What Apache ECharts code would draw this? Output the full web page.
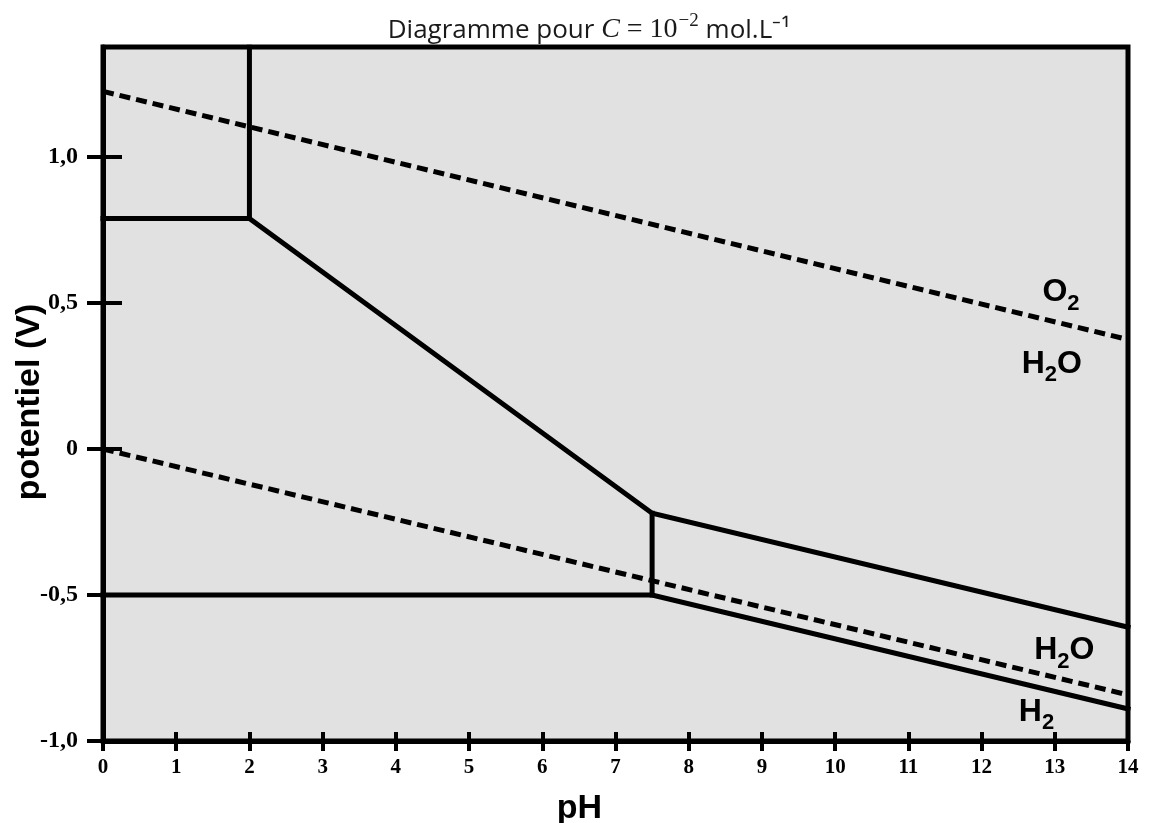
<!DOCTYPE html>
<html>
<head>
<meta charset="utf-8">
<script src="https://cdn.jsdelivr.net/npm/echarts@6/dist/echarts.min.js"></script>
<style>
html,body{margin:0;padding:0;background:#fff;}
#chart{width:1153px;height:823px;}
</style>
</head>
<body>
<div id="chart"></div>
<script>
// Tick values
const xTicks = [0,1,2,3,4,5,6,7,8,9,10,11,12,13,14];
const yTicks = [-1.0,-0.5,0,0.5,1.0];
const yTop = 1.377;

// Solid boundary lines (pH, E in V)
const lineVertical2 = [[2, yTop],[2, 0.79]];
const lineUpper = [[0, 0.79],[2, 0.79],[7.5, -0.22],[14, -0.61]];
const lineVertical75 = [[7.5, -0.22],[7.5, -0.5]];
const lineLower = [[0, -0.5],[7.5, -0.5],[14, -0.89]];

// Water stability lines (dashed)
const lineO2 = [[0, 1.225],[14, 0.375]];
const lineH2 = [[0, 0],[14, -0.842]];

// Species labels
const speciesLabels = [
  {name:'O2',  main:'O', sub:'2', tail:'',  x:13.085, y:0.536},
  {name:'H2O', main:'H', sub:'2', tail:'O', x:12.96,  y:0.291},
  {name:'H2O', main:'H', sub:'2', tail:'O', x:13.13,  y:-0.690},
  {name:'H2',  main:'H', sub:'2', tail:'',  x:12.75,  y:-0.902}
];

const chart = echarts.init(document.getElementById('chart'));

function fmtY(v){
  if (Math.abs(v) < 1e-9) return '0';
  return v.toFixed(1).replace('.', ',');
}

const solidStyle = {color:'#000', width:5, type:'solid', cap:'square', join:'miter'};
const dashStyle = {color:'#000', width:5, type:[11,6]};

function lineSeries(data, style){
  return {
    type:'line', data:data, showSymbol:false, symbol:'none',
    lineStyle:style, xAxisIndex:0, yAxisIndex:0, clip:true, silent:true,
    animation:false, z:3
  };
}

const tickFontX = {fontFamily:'Liberation Serif', fontWeight:'bold', fontSize:21, color:'#000'};
const tickFontY = {fontFamily:'Liberation Serif', fontWeight:'bold', fontSize:24, color:'#000'};

const option = {
  animation:false,
  backgroundColor:'#ffffff',
  title:{
    left:589, top:14, padding:0, textAlign:'center',
    text:'{t|Diagramme pour }{ci|C}{m| = 10}{sup|−2}{t| mol.L⁻¹}',
    textStyle:{
      fontWeight:'normal',
      rich:{
        t:{fontFamily:'Open Sans', fontWeight:'normal', fontSize:26, color:'#1a1a1a', verticalAlign:'bottom', lineHeight:30},
        ci:{fontFamily:'Liberation Serif', fontWeight:'normal', fontStyle:'italic', fontSize:28, color:'#1a1a1a', verticalAlign:'bottom', lineHeight:30},
        m:{fontFamily:'Liberation Serif', fontWeight:'normal', fontSize:28, color:'#1a1a1a', verticalAlign:'bottom', lineHeight:30},
        sup:{fontFamily:'Liberation Serif', fontWeight:'normal', fontSize:19, color:'#1a1a1a', verticalAlign:'bottom', lineHeight:19, padding:[0,0,13,1]}
      }
    }
  },
  grid:{
    left:103, right:25, top:47, bottom:82,
    outerBoundsMode:'none', containLabel:false,
    show:true, backgroundColor:'#e1e1e1', borderColor:'#000', borderWidth:5
  },
  xAxis:[
    {
      type:'value', min:0, max:14, interval:1, position:'bottom',
      name:'pH', nameLocation:'middle', nameGap:51, nameMoveOverlap:false,
      nameTextStyle:{fontFamily:'Liberation Sans', fontWeight:'bold', fontSize:34, color:'#000', padding:[0,72,0,0]},
      axisLine:{show:true, onZero:false, lineStyle:{color:'#000', width:5}},
      axisTick:{show:true, inside:false, length:10, lineStyle:{color:'#000', width:4}},
      axisLabel:Object.assign({margin:16, formatter:function(v){return String(v);}}, tickFontX),
      splitLine:{show:false}
    },
    {
      type:'value', min:0, max:14, interval:1, position:'bottom',
      axisLine:{show:false, onZero:false},
      axisTick:{show:true, inside:true, length:9, lineStyle:{color:'#000', width:4}},
      axisLabel:{show:false},
      splitLine:{show:false}
    }
  ],
  yAxis:[
    {
      type:'value', min:-1, max:yTop, position:'left',
      name:'potentiel (V)', nameLocation:'middle', nameGap:56, nameRotate:90, nameMoveOverlap:false,
      nameTextStyle:{fontFamily:'Liberation Sans', fontWeight:'bold', fontSize:34, color:'#000', padding:[0,16,0,0]},
      axisLine:{show:true, onZero:false, lineStyle:{color:'#000', width:5}},
      axisTick:{show:true, inside:false, length:16, customValues:yTicks, lineStyle:{color:'#000', width:4}},
      axisLabel:Object.assign({margin:25, customValues:yTicks, formatter:fmtY, padding:[0,0,11,0]}, tickFontY),
      splitLine:{show:false}
    },
    {
      type:'value', min:-1, max:yTop, position:'left',
      axisLine:{show:false, onZero:false},
      axisTick:{show:true, inside:true, length:19, customValues:yTicks, lineStyle:{color:'#000', width:4}},
      axisLabel:{show:false},
      splitLine:{show:false}
    }
  ],
  series:[
    lineSeries(lineVertical2, solidStyle),
    lineSeries(lineUpper, solidStyle),
    lineSeries(lineVertical75, solidStyle),
    lineSeries(lineLower, solidStyle),
    lineSeries(lineO2, dashStyle),
    lineSeries(lineH2, dashStyle),
    {
      type:'scatter', xAxisIndex:0, yAxisIndex:0, silent:true, z:5,
      symbolSize:1, itemStyle:{color:'rgba(0,0,0,0)'},
      data:speciesLabels.map(function(s){ return {value:[s.x, s.y], s:s}; }),
      label:{
        show:true, position:'inside', color:'#000', textBorderWidth:0, opacity:1,
        formatter:function(p){
          const s = p.data.s;
          return '{a|' + s.main + '}{b|' + s.sub + '}' + (s.tail ? '{a|' + s.tail + '}' : '');
        },
        rich:{
          a:{fontFamily:'Liberation Sans', fontWeight:'bold', fontSize:32, lineHeight:32, color:'#000', verticalAlign:'top', textBorderWidth:0},
          b:{fontFamily:'Liberation Sans', fontWeight:'bold', fontSize:22, lineHeight:22, color:'#000', verticalAlign:'top', padding:[16,0,0,0], textBorderWidth:0}
        }
      }
    }
  ]
};

chart.setOption(option);
</script>
</body>
</html>
